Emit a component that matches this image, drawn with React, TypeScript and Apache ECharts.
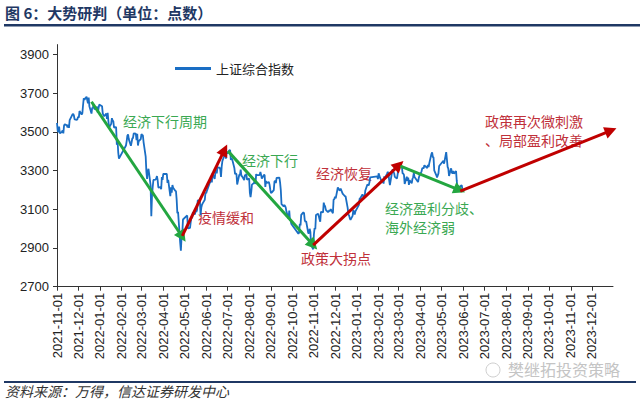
import React, { useEffect, useRef } from "react";
import * as echarts from "echarts";

// Shanghai Composite daily close: [date, close]
const sseClose: [string, number][] = [
  ["2021-11-01",3545],["2021-11-02",3505],["2021-11-03",3498],["2021-11-04",3526],["2021-11-05",3492],["2021-11-08",3499],["2021-11-09",3507],["2021-11-10",3492],["2021-11-11",3532],["2021-11-12",3539],
  ["2021-11-15",3533],["2021-11-16",3522],["2021-11-17",3537],["2021-11-18",3520],["2021-11-19",3560],["2021-11-22",3582],["2021-11-23",3589],["2021-11-24",3592],["2021-11-25",3584],["2021-11-26",3564],
  ["2021-11-29",3562],["2021-11-30",3564],["2021-12-01",3577],["2021-12-02",3573],["2021-12-03",3607],["2021-12-06",3589],["2021-12-07",3595],["2021-12-08",3637],["2021-12-09",3673],["2021-12-10",3666],
  ["2021-12-13",3681],["2021-12-14",3662],["2021-12-15",3647],["2021-12-16",3676],["2021-12-17",3632],["2021-12-20",3594],["2021-12-21",3625],["2021-12-22",3622],["2021-12-23",3643],["2021-12-24",3618],
  ["2021-12-27",3615],["2021-12-28",3630],["2021-12-29",3597],["2021-12-30",3620],["2021-12-31",3640],
  ["2022-01-04",3632],["2022-01-05",3595],["2022-01-06",3586],["2022-01-07",3580],["2022-01-10",3594],["2022-01-11",3567],["2022-01-12",3598],["2022-01-13",3555],["2022-01-14",3521],
  ["2022-01-17",3541],["2022-01-18",3570],["2022-01-19",3558],["2022-01-20",3555],["2022-01-21",3522],["2022-01-24",3524],["2022-01-25",3433],["2022-01-26",3455],["2022-01-27",3394],["2022-01-28",3361],
  ["2022-02-07",3429],["2022-02-08",3452],["2022-02-09",3480],["2022-02-10",3486],["2022-02-11",3462],["2022-02-14",3428],["2022-02-15",3446],["2022-02-16",3465],["2022-02-17",3468],["2022-02-18",3491],
  ["2022-02-21",3490],["2022-02-22",3457],["2022-02-23",3489],["2022-02-24",3429],["2022-02-25",3451],["2022-02-28",3462],["2022-03-01",3488],["2022-03-02",3484],["2022-03-03",3481],["2022-03-04",3447],
  ["2022-03-07",3372],["2022-03-08",3293],["2022-03-09",3256],["2022-03-10",3296],["2022-03-11",3309],["2022-03-14",3223],["2022-03-15",3064],["2022-03-16",3170],["2022-03-17",3216],["2022-03-18",3251],
  ["2022-03-21",3253],["2022-03-22",3259],["2022-03-23",3271],["2022-03-24",3250],["2022-03-25",3212],["2022-03-28",3214],["2022-03-29",3203],["2022-03-30",3266],["2022-03-31",3252],["2022-04-01",3282],
  ["2022-04-06",3283],["2022-04-07",3236],["2022-04-08",3252],["2022-04-11",3167],["2022-04-12",3213],["2022-04-13",3186],["2022-04-14",3225],["2022-04-15",3211],
  ["2022-04-18",3195],["2022-04-19",3194],["2022-04-20",3151],["2022-04-21",3079],["2022-04-22",3087],["2022-04-25",2929],["2022-04-26",2886],["2022-04-27",2958],["2022-04-28",2975],["2022-04-29",3047],
  ["2022-05-05",3068],["2022-05-06",3001],["2022-05-09",3004],["2022-05-10",3035],["2022-05-11",3058],["2022-05-12",3054],["2022-05-13",3084],["2022-05-16",3073],["2022-05-17",3093],["2022-05-18",3086],
  ["2022-05-19",3096],["2022-05-20",3146],["2022-05-23",3146],["2022-05-24",3070],["2022-05-25",3107],["2022-05-26",3123],["2022-05-27",3130],["2022-05-30",3149],["2022-05-31",3186],["2022-06-01",3182],
  ["2022-06-02",3195],["2022-06-06",3236],["2022-06-07",3241],["2022-06-08",3263],["2022-06-09",3239],["2022-06-10",3285],["2022-06-13",3256],["2022-06-14",3288],["2022-06-15",3305],["2022-06-16",3285],
  ["2022-06-17",3316],["2022-06-20",3315],["2022-06-21",3306],["2022-06-22",3267],["2022-06-23",3320],["2022-06-24",3349],["2022-06-27",3379],["2022-06-28",3409],["2022-06-29",3361],["2022-06-30",3398],
  ["2022-07-01",3388],["2022-07-04",3405],["2022-07-05",3404],["2022-07-06",3355],["2022-07-07",3364],["2022-07-08",3356],["2022-07-11",3313],["2022-07-12",3281],["2022-07-13",3284],["2022-07-14",3282],
  ["2022-07-15",3228],["2022-07-18",3278],["2022-07-19",3279],["2022-07-20",3305],["2022-07-21",3272],["2022-07-22",3270],["2022-07-25",3250],["2022-07-26",3277],["2022-07-27",3275],["2022-07-28",3282],
  ["2022-07-29",3253],["2022-08-01",3259],["2022-08-02",3186],["2022-08-03",3163],["2022-08-04",3189],["2022-08-05",3227],["2022-08-08",3236],["2022-08-09",3247],["2022-08-10",3230],["2022-08-11",3281],
  ["2022-08-12",3276],["2022-08-15",3276],["2022-08-16",3277],["2022-08-17",3292],["2022-08-18",3277],["2022-08-19",3258],["2022-08-22",3277],["2022-08-23",3276],["2022-08-24",3215],["2022-08-25",3246],
  ["2022-08-26",3236],["2022-08-29",3240],["2022-08-30",3227],["2022-08-31",3202],["2022-09-01",3184],["2022-09-02",3186],["2022-09-05",3199],["2022-09-06",3243],["2022-09-07",3246],["2022-09-08",3235],
  ["2022-09-09",3262],["2022-09-13",3263],["2022-09-14",3237],["2022-09-15",3199],["2022-09-16",3126],["2022-09-19",3115],["2022-09-20",3122],["2022-09-21",3117],["2022-09-22",3108],["2022-09-23",3088],
  ["2022-09-26",3051],["2022-09-27",3093],["2022-09-28",3045],["2022-09-29",3041],["2022-09-30",3024],["2022-10-10",2974],["2022-10-11",2979],["2022-10-12",3025],["2022-10-13",3016],["2022-10-14",3071],
  ["2022-10-17",3084],["2022-10-18",3080],["2022-10-19",3044],["2022-10-20",3035],["2022-10-21",3038],["2022-10-24",2977],["2022-10-25",2976],["2022-10-26",2999],["2022-10-27",2983],["2022-10-28",2916],
  ["2022-10-31",2893],["2022-11-01",2969],["2022-11-02",3003],["2022-11-03",2997],["2022-11-04",3070],["2022-11-07",3077],["2022-11-08",3064],["2022-11-09",3048],["2022-11-10",3036],["2022-11-11",3087],
  ["2022-11-14",3083],["2022-11-15",3134],["2022-11-16",3120],["2022-11-17",3115],["2022-11-18",3097],["2022-11-21",3085],["2022-11-22",3088],["2022-11-23",3096],["2022-11-24",3089],["2022-11-25",3101],
  ["2022-11-28",3079],["2022-11-29",3150],["2022-11-30",3151],["2022-12-01",3165],["2022-12-02",3156],["2022-12-05",3212],["2022-12-06",3212],["2022-12-07",3199],["2022-12-08",3197],["2022-12-09",3206],
  ["2022-12-12",3179],["2022-12-13",3176],["2022-12-14",3176],["2022-12-15",3168],["2022-12-16",3167],["2022-12-19",3107],["2022-12-20",3073],["2022-12-21",3068],["2022-12-22",3054],["2022-12-23",3045],
  ["2022-12-26",3066],["2022-12-27",3095],["2022-12-28",3087],["2022-12-29",3073],["2022-12-30",3089],
  ["2023-01-03",3116],["2023-01-04",3123],["2023-01-05",3155],["2023-01-06",3157],["2023-01-09",3176],["2023-01-10",3170],["2023-01-11",3161],["2023-01-12",3163],["2023-01-13",3195],
  ["2023-01-16",3228],["2023-01-17",3225],["2023-01-18",3224],["2023-01-19",3240],["2023-01-20",3265],["2023-01-30",3270],["2023-01-31",3256],["2023-02-01",3285],["2023-02-02",3285],["2023-02-03",3263],
  ["2023-02-06",3238],["2023-02-07",3248],["2023-02-08",3232],["2023-02-09",3270],["2023-02-10",3261],["2023-02-13",3284],["2023-02-14",3293],["2023-02-15",3280],["2023-02-16",3249],["2023-02-17",3224],
  ["2023-02-20",3291],["2023-02-21",3307],["2023-02-22",3291],["2023-02-23",3287],["2023-02-24",3267],["2023-02-27",3258],["2023-02-28",3280],["2023-03-01",3312],["2023-03-02",3310],["2023-03-03",3328],
  ["2023-03-06",3322],["2023-03-07",3285],["2023-03-08",3284],["2023-03-09",3277],["2023-03-10",3230],["2023-03-13",3268],["2023-03-14",3246],["2023-03-15",3263],["2023-03-16",3226],["2023-03-17",3250],
  ["2023-03-20",3234],["2023-03-21",3256],["2023-03-22",3265],["2023-03-23",3287],["2023-03-24",3266],["2023-03-27",3251],["2023-03-28",3246],["2023-03-29",3240],["2023-03-30",3261],["2023-03-31",3273],
  ["2023-04-03",3296],["2023-04-04",3312],["2023-04-06",3312],["2023-04-07",3327],["2023-04-10",3316],["2023-04-11",3313],["2023-04-12",3328],["2023-04-13",3318],["2023-04-14",3338],
  ["2023-04-17",3385],["2023-04-18",3394],["2023-04-19",3370],["2023-04-20",3367],["2023-04-21",3301],["2023-04-24",3275],["2023-04-25",3264],["2023-04-26",3264],["2023-04-27",3285],["2023-04-28",3323],
  ["2023-05-04",3350],["2023-05-05",3335],["2023-05-08",3395],["2023-05-09",3358],["2023-05-10",3319],["2023-05-11",3310],["2023-05-12",3272],["2023-05-15",3311],["2023-05-16",3291],["2023-05-17",3284],
  ["2023-05-18",3297],["2023-05-19",3284],["2023-05-22",3297],["2023-05-23",3246],["2023-05-24",3204],["2023-05-25",3201],["2023-05-26",3212],["2023-05-29",3221],["2023-05-30",3224],["2023-05-31",3205]
];

// trend arrows
const trendFrom = ["2021-12-20","2022-04-28","2022-07-02","2022-10-31","2023-03-04","2023-05-28"];
const trendFromVal = [3655, 2962, 3400, 2915, 3323, 3194];
const trendTo = ["2022-04-28","2022-06-27","2022-10-31","2023-03-02","2023-05-27","2023-12-28"];
const trendToVal = [2958, 3406, 2915, 3328, 3199, 3506];
const trendUp = [false, true, false, true, false, true];

const monthTicks = [
  "2021-11-01","2021-12-01","2022-01-01","2022-02-01","2022-03-01","2022-04-01","2022-05-01","2022-06-01","2022-07-01","2022-08-01","2022-09-01","2022-10-01","2022-11-01","2022-12-01",
  "2023-01-01","2023-02-01","2023-03-01","2023-04-01","2023-05-01","2023-06-01","2023-07-01","2023-08-01","2023-09-01","2023-10-01","2023-11-01","2023-12-01"
];
const xStart = "2021-11-01";
const xEnd = "2023-12-31";
const yTicks = [2700, 2900, 3100, 3300, 3500, 3700, 3900];

const seriesName = "上证综合指数";
const titleText = "图 6：大势研判（单位：点数）";
const sourceText = "资料来源：万得，信达证券研发中心";

const RED = "#c00000";
const GREEN = "#23a640";
const RED_TXT = "#c0303a";
const GREEN_TXT = "#3aa852";
const BLUE = "#1a6ec4";
const CJK = '"Noto Sans CJK SC", sans-serif';
const LAT = '"Liberation Sans", Arial, sans-serif';

function pad(n: number) { return n < 10 ? "0" + n : "" + n; }
function fmtDate(v: number) {
  const d = new Date(v);
  return d.getFullYear() + "-" + pad(d.getMonth() + 1) + "-" + pad(d.getDate());
}
const ts = (s: string) => echarts.time.parse(s).getTime();

export default function App() {
  const ref = useRef<HTMLDivElement>(null);
  useEffect(() => {
    document.body.style.margin = "0";
    if (!ref.current) return;
    const chart = echarts.init(ref.current, undefined, { renderer: "svg" });
    const tickNums = monthTicks.map(ts);
    const arrowData = trendFrom.map((f, i) => [
      {
        coord: [ts(f), trendFromVal[i]],
        lineStyle: { color: trendUp[i] ? RED : GREEN, width: 3, type: "solid" },
        itemStyle: { color: trendUp[i] ? RED : GREEN },
      },
      { coord: [ts(trendTo[i]), trendToVal[i]] },
    ]);
    const annot = (text: string, x: number, y: number, color: string) => ({
      type: "text",
      x,
      y,
      style: { text, fill: color, font: `14px ${CJK}`, verticalAlign: "middle", align: "left" },
      silent: true,
    });
    chart.setOption({
      animation: false,
      backgroundColor: "#ffffff",
      grid: { left: 57, right: 27, top: 44.6, bottom: 114.3 },
      legend: {
        left: 170,
        top: 57,
        itemWidth: 36,
        itemHeight: 3,
        itemGap: 6,
        data: [{ name: seriesName, icon: "rect" }],
        textStyle: { fontFamily: CJK, fontSize: 13, color: "#222" },
      },
      xAxis: {
        type: "value",
        min: ts(xStart),
        max: ts(xEnd),
        axisLine: { show: true, onZero: false, lineStyle: { color: "#333", width: 1 } },
        axisTick: { show: true, length: 4, customValues: tickNums, lineStyle: { color: "#333" } },
        axisLabel: {
          customValues: tickNums,
          rotate: 90,
          margin: 6,
          fontSize: 13,
          fontFamily: LAT,
          color: "#222",
          formatter: (v: number) => fmtDate(v),
        },
        splitLine: { show: false },
      },
      yAxis: {
        type: "value",
        min: 2700,
        max: 3950,
        axisLine: { show: true, lineStyle: { color: "#333", width: 1 } },
        axisTick: { show: true, length: 4, customValues: yTicks, lineStyle: { color: "#333" } },
        axisLabel: {
          customValues: yTicks,
          margin: 8,
          fontSize: 13,
          fontFamily: LAT,
          color: "#222",
          formatter: (v: number) => String(v),
        },
        splitLine: { show: false },
      },
      series: [
        {
          name: seriesName,
          type: "line",
          symbol: "none",
          data: sseClose.map(([d, v]) => [ts(d), v]),
          lineStyle: { color: BLUE, width: 1.8 },
          itemStyle: { color: BLUE },
          markLine: {
            silent: true,
            symbol: ["none", "triangle"],
            symbolSize: 12,
            label: { show: false },
            data: arrowData,
          },
        },
      ],
      graphic: [
        { type: "text", x: 5, y: 12, style: { text: titleText, fill: "#1f3864", font: `bold 15px ${CJK}`, verticalAlign: "middle", align: "left" } },
        { type: "rect", shape: { x: 4, y: 24, width: 636, height: 2.5 }, style: { fill: "#1f3864" } },
        { type: "rect", shape: { x: 4, y: 381, width: 632, height: 2 }, style: { fill: "#1f3864" } },
        { type: "text", x: 5, y: 391, style: { text: sourceText, fill: "#333", font: `italic 14px ${CJK}`, verticalAlign: "middle", align: "left" } },
        { type: "circle", shape: { cx: 493, cy: 370, r: 7 }, style: { fill: "none", stroke: "#cfcfcf", lineWidth: 1 } },
        { type: "text", x: 508, y: 369, style: { text: "樊继拓投资策略", fill: "#c4c4c4", font: `16px ${CJK}`, verticalAlign: "middle", align: "left" } },
        annot("经济下行周期", 123, 121, GREEN_TXT),
        annot("疫情缓和", 198, 217, RED_TXT),
        annot("经济下行", 242, 160, GREEN_TXT),
        annot("经济恢复", 316, 173, RED_TXT),
        annot("政策大拐点", 301, 258, RED_TXT),
        annot("经济盈利分歧、", 385, 208, GREEN_TXT),
        annot("海外经济弱", 385, 227, GREEN_TXT),
        annot("政策再次微刺激", 485, 121, RED_TXT),
        annot("、局部盈利改善", 485, 140, RED_TXT),
      ],
    });
    return () => chart.dispose();
  }, []);
  return <div ref={ref} style={{ position: "absolute", left: 0, top: 0, width: 640, height: 401 }} />;
}
